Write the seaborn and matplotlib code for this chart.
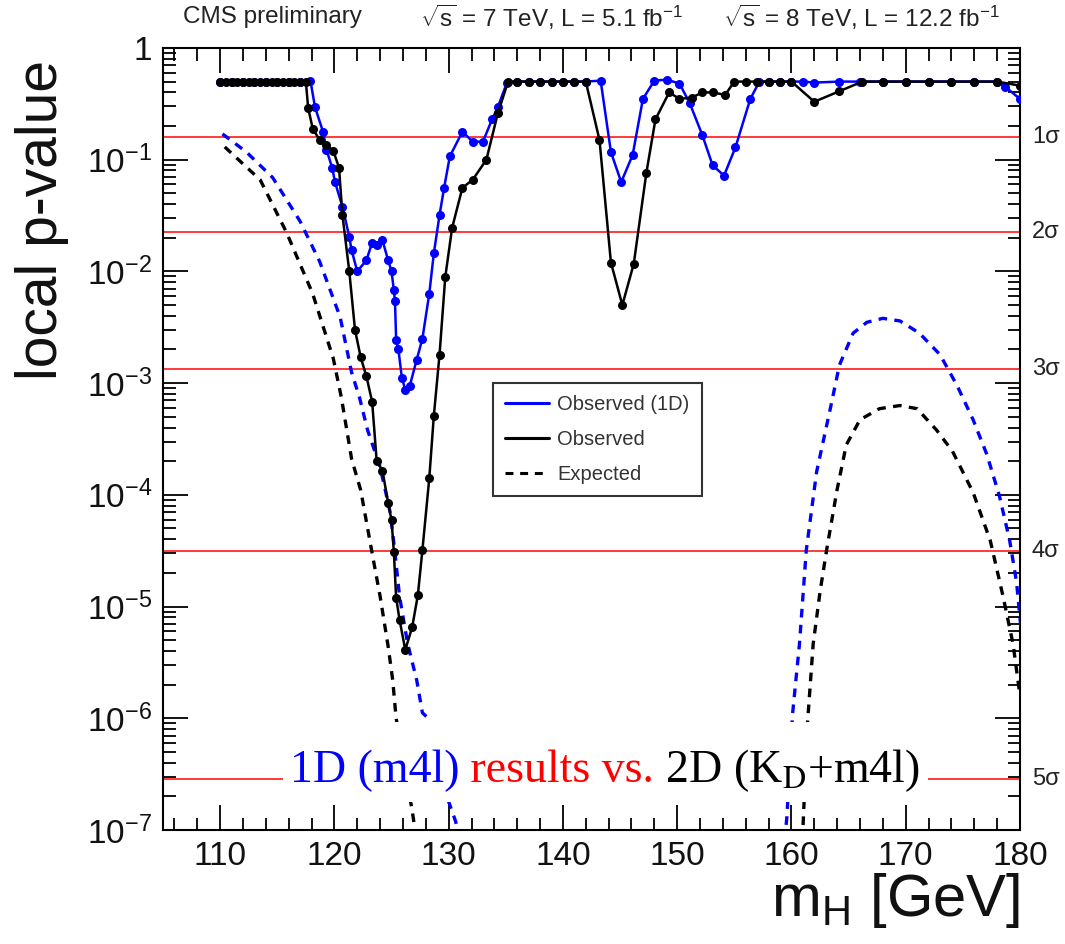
import matplotlib
matplotlib.use("Agg")
import numpy as np
import pandas as pd
import matplotlib.pyplot as plt
from matplotlib.lines import Line2D
from matplotlib.patches import Rectangle
from matplotlib.transforms import blended_transform_factory
from matplotlib.ticker import FixedLocator, FixedFormatter, LogLocator, NullFormatter, MultipleLocator
import seaborn as sns

# ---------------- data ----------------
obs2d_m = [110, 110.5, 111, 111.5, 112, 112.5, 113, 113.5, 114, 114.5, 115, 115.5, 116, 116.5, 117, 117.5,
           117.7, 118.1, 118.7, 119.3, 119.9, 120.4, 120.7, 121.3, 121.8, 122.3, 122.8, 123.3, 123.7,
           124.2, 124.7, 125.0, 125.2, 125.4, 125.7, 126.2, 126.8, 127.3, 127.7, 128.3, 128.7, 129.2,
           129.7, 130.3, 131.2, 132.1, 133.3, 134.3, 135.2, 136, 137, 138, 139, 140, 141, 142,
           143.2, 144.2, 145.2, 146.2, 147.3, 148.1, 149.3, 150.2, 151.3, 152.2, 153.1, 154.2, 155,
           156, 157, 158, 159, 160, 162.0, 164.2, 166.2, 168, 170, 172, 174, 176, 178, 180]
obs2d_p = [0.5, 0.5, 0.5, 0.5, 0.5, 0.5, 0.5, 0.5, 0.5, 0.5, 0.5, 0.5, 0.5, 0.5, 0.5, 0.5,
           0.29, 0.19, 0.15, 0.135, 0.12, 0.085, 0.032, 0.010, 0.003, 0.0017, 0.00115, 6.8e-4, 2.0e-4,
           1.65e-4, 8.5e-5, 5.9e-5, 3.1e-5, 1.2e-5, 7.6e-6, 4.1e-6, 6.5e-6, 1.26e-5, 3.2e-5, 1.4e-4, 5.1e-4, 1.8e-3,
           8.9e-3, 0.0245, 0.056, 0.066, 0.10, 0.26, 0.5, 0.5, 0.5, 0.5, 0.5, 0.5, 0.5, 0.5,
           0.15, 0.012, 0.005, 0.0117, 0.076, 0.23, 0.40, 0.35, 0.36, 0.40, 0.40, 0.38, 0.5,
           0.5, 0.5, 0.5, 0.5, 0.5, 0.33, 0.41, 0.5, 0.5, 0.5, 0.5, 0.5, 0.5, 0.5, 0.46]

obs1d_m = [110, 111, 112, 113, 114, 115, 116, 117, 117.9, 118.3, 119.0, 119.3, 119.8, 120.05, 120.7,
           121.3, 121.5, 122.0, 122.8, 123.3, 123.7, 124.2, 124.7, 125.0, 125.2, 125.3, 125.4, 125.6,
           125.9, 126.2, 126.6, 127.2, 127.7, 128.3, 128.7, 129.2, 129.6, 130.1, 131.2, 132.1, 133.0,
           133.8, 134.3, 135.1, 136, 137, 138, 139, 140, 141, 142, 143.3, 144.2, 145.1, 146.1, 147.0,
           148.0, 149.1, 150.2, 151.1, 152.2, 153.1, 154.1, 155.1, 156.4, 157.2, 158, 159, 160, 161,
           162, 164.2, 166, 168, 170, 172, 174, 176, 178, 178.7, 180]
obs1d_p = [0.5, 0.5, 0.5, 0.5, 0.5, 0.5, 0.5, 0.5, 0.51, 0.295, 0.178, 0.123, 0.085, 0.063, 0.038,
           0.0204, 0.0155, 0.010, 0.0126, 0.018, 0.0174, 0.019, 0.0126, 0.010, 0.0068, 0.0054, 0.00245, 0.0020,
           0.00112, 0.00087, 0.00095, 0.00162, 0.0025, 0.0063, 0.0145, 0.032, 0.056, 0.107, 0.178, 0.145, 0.145,
           0.23, 0.295, 0.49, 0.5, 0.5, 0.5, 0.5, 0.5, 0.5, 0.5, 0.51, 0.117, 0.063, 0.11, 0.35,
           0.51, 0.52, 0.48, 0.32, 0.166, 0.089, 0.072, 0.129, 0.35, 0.5, 0.5, 0.5, 0.5, 0.5,
           0.49, 0.5, 0.5, 0.5, 0.5, 0.5, 0.5, 0.5, 0.5, 0.45, 0.35]

exp1d_left_m = [110.2, 112.3, 114.6, 117.0, 118.7, 120.5, 121.5, 122.2, 122.9, 124.0, 124.9, 125.3,
                125.7, 126.4, 127.2, 127.7, 128.2, 129.5, 130.6, 131.0]
exp1d_left_p = [0.17, 0.117, 0.069, 0.028, 0.0123, 0.0039, 0.00125, 7.4e-4, 3.8e-4, 1.78e-4, 6.8e-5, 3.0e-5,
                1.23e-5, 4.7e-6, 2.2e-6, 1.12e-6, 1.0e-6, 2.5e-7, 1.2e-7, 8e-8]
exp1d_right_m = [159.4, 159.6, 160.1, 160.7, 161.3, 162.2, 163.4, 164.2, 165.4, 166.6, 168.0, 169.5,
                 171.2, 173.0, 174.5, 175.9, 177.1, 178.2, 179.1, 179.7, 180.1]
exp1d_right_p = [8e-8, 1.3e-7, 1.1e-6, 4.6e-6, 3.2e-5, 1.6e-4, 5.9e-4, 1.45e-3, 2.8e-3, 3.5e-3, 3.8e-3, 3.6e-3,
                 2.8e-3, 1.8e-3, 9.5e-4, 4.7e-4, 2.3e-4, 9.8e-5, 3.9e-5, 1.66e-5, 6.2e-6]

exp2d_left_m = [110.4, 113.5, 115.8, 118.1, 119.9, 120.6, 121.5, 122.3, 123.3, 124.0, 124.7, 125.1,
                125.4, 126.8, 127.2]
exp2d_left_p = [0.13, 0.066, 0.0224, 0.0063, 0.00166, 7.5e-4, 2.1e-4, 1.1e-4, 3.0e-5, 1.23e-5, 4.4e-6, 2.2e-6,
                1.0e-6, 1.5e-7, 8e-8]
exp2d_right_m = [160.8, 161.0, 161.4, 161.9, 162.5, 163.1, 164.0, 164.8, 166.0, 167.7, 169.5, 171.0,
                 172.7, 174.1, 175.9, 177.4, 178.5, 179.4, 180.0]
exp2d_right_p = [8e-8, 1.0e-7, 8.9e-7, 4.6e-6, 1.35e-5, 3.3e-5, 1.12e-4, 2.8e-4, 4.7e-4, 5.9e-4, 6.3e-4, 5.9e-4,
                 3.8e-4, 2.45e-4, 1.05e-4, 3.9e-5, 1.26e-5, 4.6e-6, 1.6e-6]

sigma_p = [0.1587, 0.02275, 0.00135, 3.17e-5, 2.87e-7]
sigma_labels = ["1σ", "2σ", "3σ", "4σ", "5σ"]

xticks = [110, 120, 130, 140, 150, 160, 170, 180]
xtick_labels = ["110", "120", "130", "140", "150", "160", "170", "180"]
yticks = [1e-7, 1e-6, 1e-5, 1e-4, 1e-3, 1e-2, 1e-1, 1]
ytick_labels = ["$10^{-7}$", "$10^{-6}$", "$10^{-5}$", "$10^{-4}$", "$10^{-3}$", "$10^{-2}$", "$10^{-1}$", "1"]

legend_labels = ["Observed (1D)", "Observed", "Expected"]
title_parts = ["CMS preliminary",
               "$\\sqrt{\\mathrm{s}}$ = 7 TeV, L = 5.1 fb$^{-1}$",
               "$\\sqrt{\\mathrm{s}}$ = 8 TeV, L = 12.2 fb$^{-1}$"]

# ---------------- style ----------------
sns.set_theme(style="ticks")
SANS = "Liberation Sans"
plt.rcParams['font.family'] = [SANS, 'DejaVu Sans']
plt.rcParams['mathtext.fontset'] = 'custom'
plt.rcParams['mathtext.rm'] = SANS
plt.rcParams['mathtext.it'] = SANS + ':italic'
plt.rcParams['mathtext.bf'] = SANS + ':bold'
plt.rcParams['axes.linewidth'] = 1.5

BLUE = "#0000ff"
RED = "#ff2a2a"

fig = plt.figure(figsize=(10.65, 9.44), dpi=100)
ax = fig.add_axes([0.1531, 0.1208, 0.8046, 0.8284])

def df(m, p):
    return pd.DataFrame({"m": m, "p": p})

dash = (0, (2.6, 2.2))
for m, p, c in [(exp1d_left_m, exp1d_left_p, BLUE), (exp1d_right_m, exp1d_right_p, BLUE),
                (exp2d_left_m, exp2d_left_p, "black"), (exp2d_right_m, exp2d_right_p, "black")]:
    sns.lineplot(data=df(m, p), x="m", y="p", ax=ax, color=c, linestyle=dash, lw=2.4,
                 estimator=None, sort=False, zorder=3)

sns.lineplot(data=df(obs1d_m, obs1d_p), x="m", y="p", ax=ax, color=BLUE, lw=1.8, marker="o",
             markersize=6.5, markeredgewidth=0, estimator=None, sort=False, zorder=3)
sns.lineplot(data=df(obs2d_m, obs2d_p), x="m", y="p", ax=ax, color="black", lw=1.8, marker="o",
             markersize=6.5, markeredgewidth=0, estimator=None, sort=False, zorder=4)

for p in sigma_p:
    ax.axhline(p, color=RED, lw=1.3, zorder=2)

trans = blended_transform_factory(ax.transAxes, ax.transData)
for p, lab in zip(sigma_p, sigma_labels):
    ax.text(1.014, p, lab, transform=trans, ha="left", va="center", fontsize=17, color="#222222")

ax.set_yscale("log")
ax.set_xlim(105, 180)
ax.set_ylim(1e-7, 1)
ax.xaxis.set_major_locator(FixedLocator(xticks))
ax.xaxis.set_major_formatter(FixedFormatter(xtick_labels))
ax.xaxis.set_minor_locator(MultipleLocator(2))
ax.yaxis.set_major_locator(FixedLocator(yticks))
ax.yaxis.set_major_formatter(FixedFormatter(ytick_labels))
ax.yaxis.set_minor_locator(LogLocator(base=10, subs=range(2, 10), numticks=30))
ax.yaxis.set_minor_formatter(NullFormatter())
ax.tick_params(which="both", direction="in", top=True, right=True, width=1.3, color="black")
ax.tick_params(which="major", length=18, labelsize=24, pad=8, labelcolor="#111111")
ax.tick_params(which="minor", length=9)
for s in ax.spines.values():
    s.set_color("black")
    s.set_linewidth(1.5)

ax.set_xlabel("m$_{\\mathrm{H}}$ [GeV]", fontsize=43, loc="right", color="#111111")
ax.xaxis.set_label_coords(1.0, -0.09)
ax.xaxis.label.set_va("center")
ax.set_ylabel("local p-value", fontsize=41, loc="top", color="#111111")
ax.yaxis.set_label_coords(-0.11, 0.985)

# legend
handles = [Line2D([], [], color=BLUE, lw=2.2), Line2D([], [], color="black", lw=2.2),
           Line2D([], [], color="black", lw=2.2, linestyle=(0, (2.6, 2.2)))]
leg = ax.legend(handles, legend_labels, loc="upper left", bbox_to_anchor=(0.385, 0.572),
                fontsize=14.5, frameon=True, fancybox=False, edgecolor="#333333", framealpha=1,
                handlelength=2.2, labelspacing=0.8, borderpad=0.6, handletextpad=0.4,
                borderaxespad=0)
leg.get_frame().set_linewidth(1.5)
for t in leg.get_texts():
    t.set_color("#333333")

# title pieces
for xpx, txt in zip([183, 420, 723], title_parts):
    fig.text(xpx / 1065, 1 - 17 / 944, txt, ha="left", va="center", fontsize=17.5, color="#222222")

# overlay annotation box
ax.add_patch(Rectangle((0.140, 0.036), 0.753, 0.102, transform=ax.transAxes, facecolor="white",
                       edgecolor="none", zorder=5))
SERIF = ["Liberation Serif", "DejaVu Serif"]
fs = 33
t1 = ax.text(0.148, 0.061, "1D (m4l)", transform=ax.transAxes, color=BLUE, fontsize=fs,
             family=SERIF, va="baseline", ha="left", zorder=6)
fig.canvas.draw()
r = fig.canvas.get_renderer()
inv = ax.transAxes.inverted()
x1 = inv.transform((t1.get_window_extent(r).x1, 0))[0]
t2 = ax.text(x1, 0.061, " results vs.", transform=ax.transAxes, color="red", fontsize=fs,
             family=SERIF, va="baseline", ha="left", zorder=6)
fig.canvas.draw()
x2 = inv.transform((t2.get_window_extent(r).x1, 0))[0]
ax.text(x2, 0.061, " 2D (K$_\\mathrm{D}$+m4l)", transform=ax.transAxes, color="black", fontsize=fs,
        family=SERIF, va="baseline", ha="left", zorder=6, math_fontfamily="stix")

fig.savefig("out.png", dpi=100)
